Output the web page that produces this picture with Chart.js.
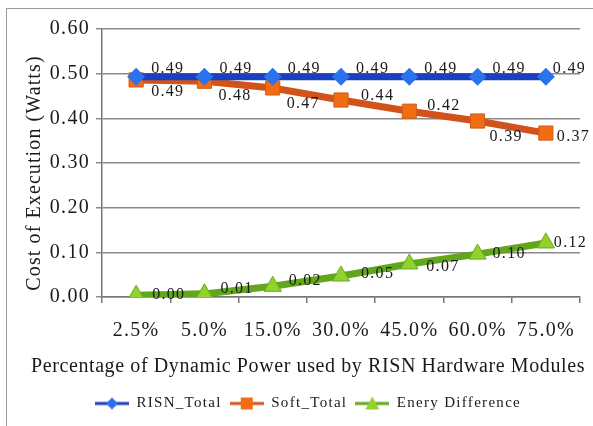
<!DOCTYPE html>
<html>
<head>
<meta charset="utf-8">
<script src="https://cdn.jsdelivr.net/npm/chart.js@4"></script>
<style>
  html, body { margin: 0; padding: 0; background: #fff; overflow: hidden; }
  #wrap { position: relative; width: 593px; height: 426px; }
  #frame { position: absolute; left: 6px; top: 8px; width: 700px; height: 600px; border: 1px solid #9a9a9a; box-sizing: border-box; }
  canvas { position: absolute; left: 0; top: 0; }
</style>
</head>
<body>
<div id="wrap">
  <div id="frame"></div>
  <canvas id="canvas" width="593" height="426"></canvas>
</div>
<script>
// Cost of execution vs share of dynamic power
const categories = ["2.5%", "5.0%", "15.0%", "30.0%", "45.0%", "60.0%", "75.0%"];
const risnTotal = [0.493, 0.493, 0.493, 0.493, 0.493, 0.493, 0.493];
const softTotal = [0.486, 0.483, 0.468, 0.441, 0.416, 0.394, 0.367];
const energyDiff = [0.004, 0.007, 0.024, 0.047, 0.074, 0.096, 0.121];
const yTicks = [0, 0.1, 0.2, 0.3, 0.4, 0.5, 0.6];

const xTitle = "Percentage of Dynamic Power used by RISN Hardware Modules";
const yTitle = "Cost of Execution (Watts)";

const serif = "'Liberation Serif', 'DejaVu Serif', serif";
const spacing = "1.3px";

// label offsets (dx to text left, dy to text middle) per point
const risnLabelPos = [[15, -8], [15, -8], [15, -8], [15, -8], [15, -8], [15, -8], [7, -8]];
const softLabelPos = [[15, 12], [14, 15], [14, 16], [20, -4], [18, -5], [12, 16], [11, 4]];
const diffLabelPos = [[16, 0], [16, -5], [16, -5], [20, -2], [17, 3], [15, 0], [8, 0]];

function legendIcon(lineColor, pointColor, drawMarker) {
  const c = document.createElement("canvas");
  c.width = 34;
  c.height = 16;
  const g = c.getContext("2d");
  g.strokeStyle = lineColor;
  g.lineWidth = 3;
  g.beginPath();
  g.moveTo(0, 8);
  g.lineTo(34, 8);
  g.stroke();
  g.fillStyle = pointColor;
  drawMarker(g);
  return c;
}

const risnIcon = legendIcon("#1b3fc0", "#2b72ee", function (g) {
  g.beginPath();
  g.moveTo(17, 2); g.lineTo(23, 8); g.lineTo(17, 14); g.lineTo(11, 8);
  g.closePath(); g.fill();
});
const softIcon = legendIcon("#d2531a", "#f26c12", function (g) {
  g.fillRect(11, 2, 12, 12);
});
const diffIcon = legendIcon("#62a61c", "#92d22c", function (g) {
  g.beginPath();
  g.moveTo(17, 1); g.lineTo(24, 14); g.lineTo(10, 14);
  g.closePath(); g.fill();
});

// the original text is set wide, so keep a little letter spacing
const wideText = {
  id: "wideText",
  beforeUpdate(chart) { chart.ctx.letterSpacing = spacing; },
  beforeDraw(chart) { chart.ctx.letterSpacing = spacing; }
};

// axis titles drawn by hand so they sit where the original has them
const axisTitles = {
  id: "axisTitles",
  afterDraw(chart) {
    const ctx = chart.ctx;
    ctx.save();
    ctx.fillStyle = "#1a1a1a";
    ctx.textAlign = "center";
    ctx.textBaseline = "middle";
    ctx.letterSpacing = "0.6px";
    ctx.font = "20px " + serif;
    ctx.fillText(xTitle, 308, 367, 558);
    ctx.letterSpacing = "1.1px";
    ctx.font = "20px " + serif;
    ctx.translate(35, 173);
    ctx.rotate(-Math.PI / 2);
    ctx.fillText(yTitle, 0, 0, 240);
    ctx.restore();
  }
};

const valueLabels = {
  id: "valueLabels",
  afterDatasetsDraw(chart) {
    const ctx = chart.ctx;
    ctx.save();
    ctx.font = "16px " + serif;
    ctx.fillStyle = "#1a1a1a";
    ctx.textAlign = "left";
    ctx.textBaseline = "middle";
    chart.data.datasets.forEach(function (ds, i) {
      const meta = chart.getDatasetMeta(i);
      meta.data.forEach(function (pt, j) {
        const off = ds.labelPos[j];
        ctx.fillText(ds.data[j].toFixed(2), pt.x + off[0], pt.y + off[1]);
      });
    });
    ctx.restore();
  }
};

const ctx = document.getElementById("canvas").getContext("2d");

new Chart(ctx, {
  type: "line",
  data: {
    labels: categories,
    datasets: [
      {
        label: "RISN_Total",
        data: risnTotal,
        borderColor: "#1b3fc0",
        backgroundColor: "#2b72ee",
        borderWidth: 7,
        pointStyle: "rectRot",
        pointRadius: 9,
        pointBorderWidth: 0,
        pointBackgroundColor: "#2b72ee",
        labelPos: risnLabelPos,
        icon: risnIcon
      },
      {
        label: "Soft_Total",
        data: softTotal,
        borderColor: "#d2531a",
        backgroundColor: "#f26c12",
        borderWidth: 7,
        pointStyle: "rect",
        pointRadius: 10,
        pointBorderWidth: 1,
        pointBorderColor: "#d25a18",
        pointBackgroundColor: "#f26c12",
        labelPos: softLabelPos,
        icon: softIcon
      },
      {
        label: "Enery Difference",
        data: energyDiff,
        borderColor: "#62a61c",
        backgroundColor: "#92d22c",
        borderWidth: 7,
        pointStyle: "triangle",
        pointRadius: 10,
        pointBorderWidth: 1,
        pointBorderColor: "#6aa820",
        pointBackgroundColor: "#92d22c",
        labelPos: diffLabelPos,
        icon: diffIcon
      }
    ]
  },
  options: {
    responsive: false,
    animation: false,
    layout: { padding: { left: 36, right: 13, top: 29, bottom: 5 } },
    plugins: {
      tooltip: { enabled: false },
      legend: {
        display: true,
        position: "bottom",
        labels: {
          usePointStyle: true,
          pointStyleWidth: 34,
          boxHeight: 16,
          padding: 8,
          color: "#1a1a1a",
          font: { family: serif, size: 15 },
          generateLabels(chart) {
            return chart.data.datasets.map(function (ds, i) {
              return {
                text: ds.label,
                pointStyle: ds.icon,
                fillStyle: ds.backgroundColor,
                strokeStyle: ds.borderColor,
                lineWidth: 0,
                datasetIndex: i,
                fontColor: "#1a1a1a"
              };
            });
          }
        }
      }
    },
    scales: {
      x: {
        offset: true,
        afterFit(scale) {
          scale.height = 91;
        },
        grid: {
          offset: true,
          drawOnChartArea: false,
          drawTicks: true,
          tickLength: 6,
          color: "#777",
          lineWidth: 1.5
        },
        border: { color: "#777", width: 1.5 },
        ticks: {
          color: "#1a1a1a",
          font: { family: serif, size: 20 },
          padding: 16,
          maxRotation: 0
        }
      },
      y: {
        min: 0,
        max: 0.6,
        afterBuildTicks(scale) {
          scale.ticks = yTicks.map(function (v) { return { value: v }; });
        },
        afterFit(scale) {
          scale.width = 66;
        },
        grid: {
          color: "#8a8a8a",
          lineWidth: 1.5,
          tickLength: 6
        },
        border: { color: "#777", width: 1.5 },
        ticks: {
          color: "#1a1a1a",
          font: { family: serif, size: 20 },
          padding: 6,
          callback: function (v) { return Number(v).toFixed(2); }
        }
      }
    }
  },
  plugins: [wideText, valueLabels, axisTitles]
});
</script>
</body>
</html>
